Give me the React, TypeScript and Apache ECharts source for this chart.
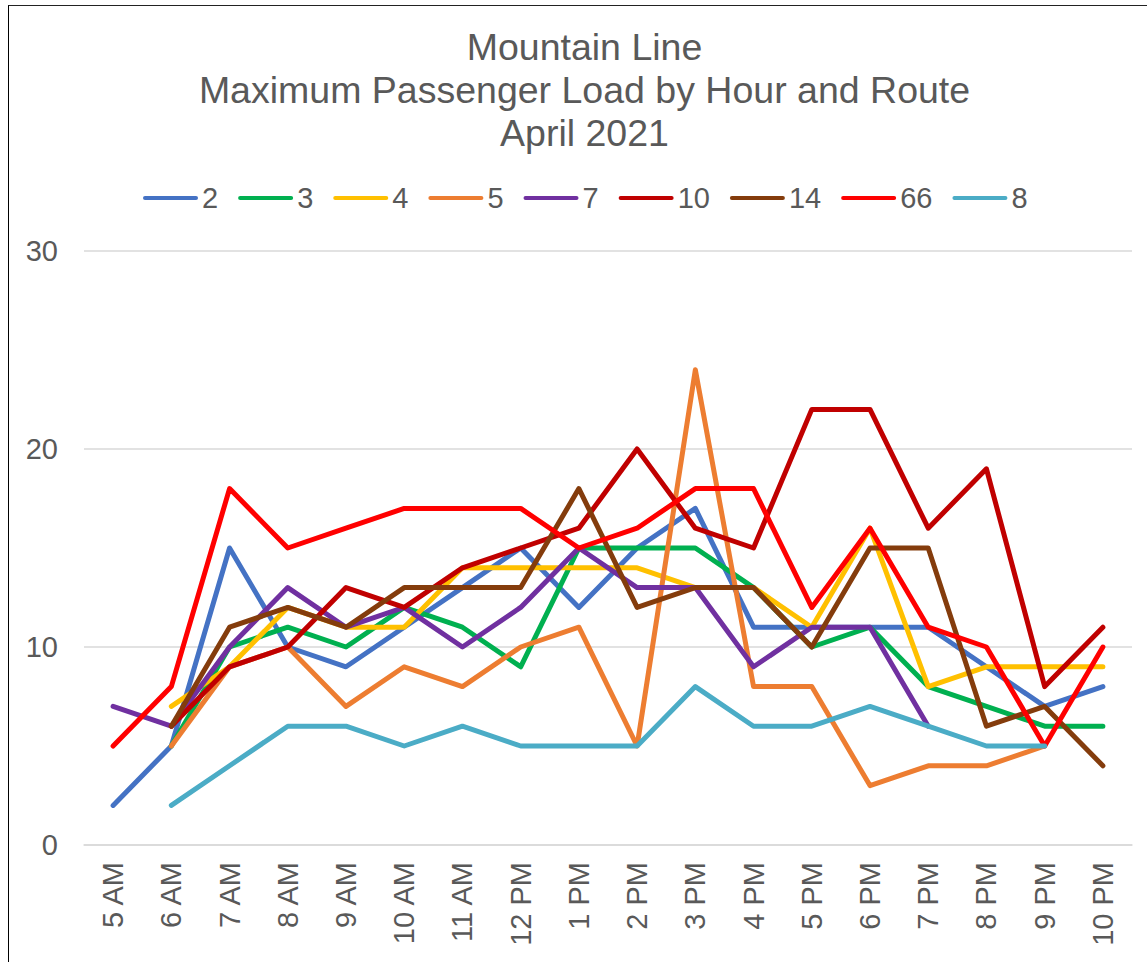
import React, { useEffect, useRef } from "react";
import * as echarts from "echarts";

const hours = ["5 AM", "6 AM", "7 AM", "8 AM", "9 AM", "10 AM", "11 AM", "12 PM", "1 PM", "2 PM", "3 PM", "4 PM", "5 PM", "6 PM", "7 PM", "8 PM", "9 PM", "10 PM"];

const route2 = [2, 5, 15, 10, 9, 11, 13, 15, 12, 15, 17, 11, 11, 11, 11, 9, 7, 8];
const route3 = [null, 5, 10, 11, 10, 12, 11, 9, 15, 15, 15, 13, 10, 11, 8, 7, 6, 6];
const route4 = [null, 7, 9, 12, 11, 11, 14, 14, 14, 14, 13, 13, 11, 16, 8, 9, 9, 9];
const route5 = [null, 5, 9, 10, 7, 9, 8, 10, 11, 5, 24, 8, 8, 3, 4, 4, 5, null];
const route7 = [7, 6, 10, 13, 11, 12, 10, 12, 15, 13, 13, 9, 11, 11, 6, null, null, null];
const route10 = [null, 6, 9, 10, 13, 12, 14, 15, 16, 20, 16, 15, 22, 22, 16, 19, 8, 11];
const route14 = [null, 6, 11, 12, 11, 13, 13, 13, 18, 12, 13, 13, 10, 15, 15, 6, 7, 4];
const route66 = [5, 8, 18, 15, 16, 17, 17, 17, 15, 16, 18, 18, 12, 16, 11, 10, 5, 10];
const route8 = [null, 2, 4, 6, 6, 5, 6, 5, 5, 5, 8, 6, 6, 7, 6, 5, 5, null];

const routeNames = ["2", "3", "4", "5", "7", "10", "14", "66", "8"];
const routeValues = [route2, route3, route4, route5, route7, route10, route14, route66, route8];
const routeColors = ["#4472C4", "#00B050", "#FFC000", "#ED7D31", "#7030A0", "#C00000", "#843C0C", "#FF0000", "#4BACC6"];

const yTicks = { min: 0, max: 30, interval: 10 };

const FONT = "'Liberation Sans', Arial, sans-serif";
const TEXT = "#595959";

export default function App() {
  const ref = useRef<HTMLDivElement>(null);
  useEffect(() => {
    if (!ref.current) return;
    const chart = echarts.init(ref.current, null, { renderer: "svg" });
    chart.setOption({
      animation: false,
      backgroundColor: "#ffffff",
      textStyle: { fontFamily: FONT },
      title: {
        text: "Mountain Line\nMaximum Passenger Load by Hour and Route\nApril 2021",
        left: 575.5,
        top: 19,
        textAlign: "center",
        padding: 0,
        textStyle: {
          fontFamily: FONT,
          fontSize: 37.5,
          lineHeight: 43,
          fontWeight: "normal",
          color: TEXT,
        },
      },
      legend: {
        left: 134,
        top: 177,
        padding: 0,
        itemWidth: 55,
        itemHeight: 10,
        itemGap: 20,
        icon: "path://M2,0 L53,0 A2,2 0 0 1 53,4 L2,4 A2,2 0 0 1 2,0 Z",
        data: routeNames,
        textStyle: {
          fontFamily: FONT,
          fontSize: 29,
          lineHeight: 30,
          color: TEXT,
          padding: [0, 0, 0, -1],
        },
      },
      grid: { left: 75, right: 15, top: 245, bottom: 117, containLabel: false },
      xAxis: {
        type: "category",
        data: hours,
        boundaryGap: true,
        axisLine: { show: true, lineStyle: { color: "#d9d9d9", width: 1.5 } },
        axisTick: { show: false },
        axisLabel: {
          rotate: 90,
          margin: 17,
          interval: 0,
          fontFamily: FONT,
          fontSize: 29,
          color: TEXT,
        },
      },
      yAxis: {
        type: "value",
        min: yTicks.min,
        max: yTicks.max,
        interval: yTicks.interval,
        axisLine: { show: false },
        axisTick: { show: false },
        splitLine: { lineStyle: { color: "#d9d9d9", width: 1.5 } },
        axisLabel: {
          margin: 26,
          fontFamily: FONT,
          fontSize: 29,
          color: TEXT,
        },
      },
      series: routeNames.map((name, i) => ({
        name,
        type: "line",
        data: routeValues[i],
        showSymbol: false,
        symbol: "none",
        connectNulls: false,
        itemStyle: { color: routeColors[i] },
        lineStyle: { color: routeColors[i], width: 5, cap: "round", join: "round" },
        emphasis: { disabled: true },
      })),
    });
    return () => chart.dispose();
  }, []);

  return (
    <div
      style={{
        position: "fixed",
        left: 8,
        top: 5,
        width: 1139,
        height: 957,
        borderLeft: "1px solid #000",
        borderTop: "1px solid #222",
        background: "#fff",
      }}
    >
      <div ref={ref} style={{ width: 1138, height: 956 }} />
    </div>
  );
}
